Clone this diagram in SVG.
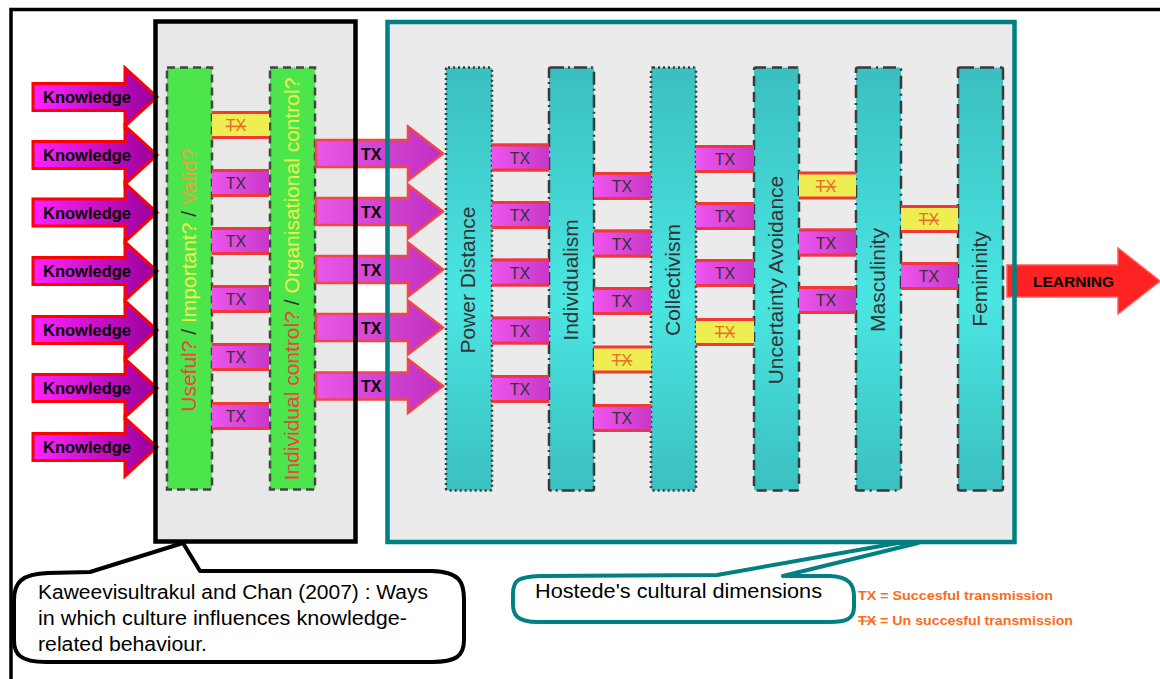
<svg xmlns="http://www.w3.org/2000/svg" width="1160" height="679" viewBox="0 0 1160 679">
<style>
.kw{font:bold 16.5px "Liberation Sans",Arial,sans-serif;fill:#000}
.karrow polygon{fill:url(#kg);stroke:#ff0000;stroke-width:3}
.txarrow polygon{fill:url(#tag);stroke:#f04848;stroke-width:2.5}
.txa{font:bold 16px "Liberation Sans",Arial,sans-serif;fill:#000}
.conn rect{fill:url(#cg)}
.conn.no rect{fill:#eeee52}
.conn line{stroke:#f03838;stroke-width:3}
.tx{font:16px "Liberation Sans",Arial,sans-serif;fill:#333;text-anchor:middle}
.no .tx{fill:#e8702a;text-decoration:line-through}
.gbar{fill:#4ce64c;stroke:#444;stroke-width:2.5;stroke-dasharray:8 5}
.tbar{fill:url(#tg);stroke:#3a3a3a;stroke-width:2.5}
.dim{font:21px "Liberation Sans",Arial,sans-serif;fill:#333;text-anchor:middle}
.gtxt{font:21px "Liberation Sans",Arial,sans-serif;text-anchor:middle}
.call{font:20px "Liberation Sans",Arial,sans-serif;fill:#000}
.leg{font:bold 13px "Liberation Sans",Arial,sans-serif;fill:#ff6a1a}
</style>
<defs>
<linearGradient id="kg" x1="0" y1="0" x2="1" y2="0"><stop offset="0" stop-color="#ff22ff"/><stop offset="1" stop-color="#980098"/></linearGradient>
<linearGradient id="tag" x1="0" y1="0" x2="1" y2="0"><stop offset="0" stop-color="#e858e8"/><stop offset="1" stop-color="#c030c0"/></linearGradient>
<linearGradient id="cg" x1="0" y1="0" x2="1" y2="0"><stop offset="0" stop-color="#ee55ee"/><stop offset="1" stop-color="#c838c8"/></linearGradient>
<linearGradient id="tg" x1="0" y1="0" x2="0" y2="1"><stop offset="0" stop-color="#3bbfc0"/><stop offset="0.55" stop-color="#4ae6e2"/><stop offset="1" stop-color="#3bc0c0"/></linearGradient>
</defs>
<rect width="1160" height="679" fill="#fff"/>
<g id="outer-frame"><path d="M11,679 V9.5 H1160" fill="none" stroke="#000" stroke-width="3.5"/></g>

<g id="box-kaweevisultrakul-fill"><rect x="155.5" y="21.5" width="200" height="520" fill="#e8e8e8"/></g>
<g id="box-hofstede-fill"><rect x="387.5" y="22" width="627" height="520" fill="#ebebeb"/></g>

<g id="green-bars">
<g id="bar-useful"><rect class="gbar" x="167" y="67.5" width="45" height="422"/>
<text class="gtxt" x="196" y="280" transform="rotate(-90 196 280)"><tspan fill="#f04040">Useful?</tspan><tspan fill="#333"> / </tspan><tspan fill="#f0f050">Important?</tspan><tspan fill="#333"> / </tspan><tspan fill="#f0a040">Valid?</tspan></text></g>
<g id="bar-control"><rect class="gbar" x="270" y="67.5" width="45" height="422"/>
<text class="gtxt" x="299" y="279" transform="rotate(-90 299 279)"><tspan fill="#f04040">Individual control?</tspan><tspan fill="#333"> / </tspan><tspan fill="#f0f050">Organisational control?</tspan></text></g>
</g>

<g id="teal-bars">
<g id="bar-pd"><rect class="tbar" x="446" y="67.5" width="46" height="423" rx="2" stroke-dasharray="2 3"/><text class="dim" x="475" y="280" transform="rotate(-90 475 280)">Power Distance</text></g>
<g id="bar-ind"><rect class="tbar" x="549" y="67.5" width="45" height="423" rx="2" stroke-dasharray="13 4 2 4"/><text class="dim" x="578" y="280" transform="rotate(-90 578 280)">Individualism</text></g>
<g id="bar-col"><rect class="tbar" x="651" y="67.5" width="45" height="423" rx="2" stroke-dasharray="2 3"/><text class="dim" x="680" y="280" transform="rotate(-90 680 280)">Collectivism</text></g>
<g id="bar-ua"><rect class="tbar" x="754" y="67.5" width="45" height="423" rx="2" stroke-dasharray="10 6"/><text class="dim" x="783" y="280" transform="rotate(-90 783 280)">Uncertainty Avoidance</text></g>
<g id="bar-mas"><rect class="tbar" x="856" y="67.5" width="45" height="423" rx="2" stroke-dasharray="13 5 2 5"/><text class="dim" x="885" y="280" transform="rotate(-90 885 280)">Masculinity</text></g>
<g id="bar-fem"><rect class="tbar" x="958" y="67.5" width="45" height="423" rx="2" stroke-dasharray="14 6"/><text class="dim" x="987" y="279" transform="rotate(-90 987 279)">Femininity</text></g>
</g>

<g id="connectors">
<!-- green section -->
<g class="conn no" transform="translate(212,125)"><rect y="-14" width="57" height="28"/><line x1="0" y1="-12.5" x2="57" y2="-12.5"/><line x1="0" y1="12.5" x2="57" y2="12.5"/><text class="tx" x="24" y="6">TX</text></g>
<g class="conn" transform="translate(212,183)"><rect y="-14" width="57" height="28"/><line x1="0" y1="-12.5" x2="57" y2="-12.5"/><line x1="0" y1="12.5" x2="57" y2="12.5"/><text class="tx" x="24" y="6">TX</text></g>
<g class="conn" transform="translate(212,241)"><rect y="-14" width="57" height="28"/><line x1="0" y1="-12.5" x2="57" y2="-12.5"/><line x1="0" y1="12.5" x2="57" y2="12.5"/><text class="tx" x="24" y="6">TX</text></g>
<g class="conn" transform="translate(212,299)"><rect y="-14" width="57" height="28"/><line x1="0" y1="-12.5" x2="57" y2="-12.5"/><line x1="0" y1="12.5" x2="57" y2="12.5"/><text class="tx" x="24" y="6">TX</text></g>
<g class="conn" transform="translate(212,357)"><rect y="-14" width="57" height="28"/><line x1="0" y1="-12.5" x2="57" y2="-12.5"/><line x1="0" y1="12.5" x2="57" y2="12.5"/><text class="tx" x="24" y="6">TX</text></g>
<g class="conn" transform="translate(212,416)"><rect y="-14" width="57" height="28"/><line x1="0" y1="-12.5" x2="57" y2="-12.5"/><line x1="0" y1="12.5" x2="57" y2="12.5"/><text class="tx" x="24" y="6">TX</text></g>
<!-- PD to Individualism -->
<g class="conn" transform="translate(492,157.5)"><rect y="-14" width="57" height="28"/><line x1="0" y1="-12.5" x2="57" y2="-12.5"/><line x1="0" y1="12.5" x2="57" y2="12.5"/><text class="tx" x="28" y="6">TX</text></g>
<g class="conn" transform="translate(492,215)"><rect y="-14" width="57" height="28"/><line x1="0" y1="-12.5" x2="57" y2="-12.5"/><line x1="0" y1="12.5" x2="57" y2="12.5"/><text class="tx" x="28" y="6">TX</text></g>
<g class="conn" transform="translate(492,272.5)"><rect y="-14" width="57" height="28"/><line x1="0" y1="-12.5" x2="57" y2="-12.5"/><line x1="0" y1="12.5" x2="57" y2="12.5"/><text class="tx" x="28" y="6">TX</text></g>
<g class="conn" transform="translate(492,330.5)"><rect y="-14" width="57" height="28"/><line x1="0" y1="-12.5" x2="57" y2="-12.5"/><line x1="0" y1="12.5" x2="57" y2="12.5"/><text class="tx" x="28" y="6">TX</text></g>
<g class="conn" transform="translate(492,389)"><rect y="-14" width="57" height="28"/><line x1="0" y1="-12.5" x2="57" y2="-12.5"/><line x1="0" y1="12.5" x2="57" y2="12.5"/><text class="tx" x="28" y="6">TX</text></g>
<!-- Individualism to Collectivism -->
<g class="conn" transform="translate(594,186)"><rect y="-14" width="57" height="28"/><line x1="0" y1="-12.5" x2="57" y2="-12.5"/><line x1="0" y1="12.5" x2="57" y2="12.5"/><text class="tx" x="28" y="6">TX</text></g>
<g class="conn" transform="translate(594,243.5)"><rect y="-14" width="57" height="28"/><line x1="0" y1="-12.5" x2="57" y2="-12.5"/><line x1="0" y1="12.5" x2="57" y2="12.5"/><text class="tx" x="28" y="6">TX</text></g>
<g class="conn" transform="translate(594,301)"><rect y="-14" width="57" height="28"/><line x1="0" y1="-12.5" x2="57" y2="-12.5"/><line x1="0" y1="12.5" x2="57" y2="12.5"/><text class="tx" x="28" y="6">TX</text></g>
<g class="conn no" transform="translate(594,359.5)"><rect y="-14" width="57" height="28"/><line x1="0" y1="-12.5" x2="57" y2="-12.5"/><line x1="0" y1="12.5" x2="57" y2="12.5"/><text class="tx" x="28" y="6">TX</text></g>
<g class="conn" transform="translate(594,418)"><rect y="-14" width="57" height="28"/><line x1="0" y1="-12.5" x2="57" y2="-12.5"/><line x1="0" y1="12.5" x2="57" y2="12.5"/><text class="tx" x="28" y="6">TX</text></g>
<!-- Collectivism to UA -->
<g class="conn" transform="translate(696,159)"><rect y="-14" width="58" height="28"/><line x1="0" y1="-12.5" x2="58" y2="-12.5"/><line x1="0" y1="12.5" x2="58" y2="12.5"/><text class="tx" x="29" y="6">TX</text></g>
<g class="conn" transform="translate(696,216)"><rect y="-14" width="58" height="28"/><line x1="0" y1="-12.5" x2="58" y2="-12.5"/><line x1="0" y1="12.5" x2="58" y2="12.5"/><text class="tx" x="29" y="6">TX</text></g>
<g class="conn" transform="translate(696,273)"><rect y="-14" width="58" height="28"/><line x1="0" y1="-12.5" x2="58" y2="-12.5"/><line x1="0" y1="12.5" x2="58" y2="12.5"/><text class="tx" x="29" y="6">TX</text></g>
<g class="conn no" transform="translate(696,332)"><rect y="-14" width="58" height="28"/><line x1="0" y1="-12.5" x2="58" y2="-12.5"/><line x1="0" y1="12.5" x2="58" y2="12.5"/><text class="tx" x="29" y="6">TX</text></g>
<!-- UA to Masculinity -->
<g class="conn no" transform="translate(799,185.5)"><rect y="-14" width="57" height="28"/><line x1="0" y1="-12.5" x2="57" y2="-12.5"/><line x1="0" y1="12.5" x2="57" y2="12.5"/><text class="tx" x="27" y="6">TX</text></g>
<g class="conn" transform="translate(799,242.5)"><rect y="-14" width="57" height="28"/><line x1="0" y1="-12.5" x2="57" y2="-12.5"/><line x1="0" y1="12.5" x2="57" y2="12.5"/><text class="tx" x="27" y="6">TX</text></g>
<g class="conn" transform="translate(799,300)"><rect y="-14" width="57" height="28"/><line x1="0" y1="-12.5" x2="57" y2="-12.5"/><line x1="0" y1="12.5" x2="57" y2="12.5"/><text class="tx" x="27" y="6">TX</text></g>
<!-- Masculinity to Femininity -->
<g class="conn no" transform="translate(901,219)"><rect y="-14" width="57" height="28"/><line x1="0" y1="-12.5" x2="57" y2="-12.5"/><line x1="0" y1="12.5" x2="57" y2="12.5"/><text class="tx" x="28" y="6">TX</text></g>
<g class="conn" transform="translate(901,276)"><rect y="-14" width="57" height="28"/><line x1="0" y1="-12.5" x2="57" y2="-12.5"/><line x1="0" y1="12.5" x2="57" y2="12.5"/><text class="tx" x="28" y="6">TX</text></g>

<!-- Knowledge input arrows -->
<g id="k1" class="karrow" transform="translate(0,97)"><polygon points="33,-13.5 125,-13.5 125,-29 157,0 125,29 125,13.5 33,13.5"/><text class="kw" x="43" y="6">Knowledge</text></g>
<g id="k2" class="karrow" transform="translate(0,155)"><polygon points="33,-13.5 125,-13.5 125,-29 157,0 125,29 125,13.5 33,13.5"/><text class="kw" x="43" y="6">Knowledge</text></g>
<g id="k3" class="karrow" transform="translate(0,212.5)"><polygon points="33,-13.5 125,-13.5 125,-29 157,0 125,29 125,13.5 33,13.5"/><text class="kw" x="43" y="6">Knowledge</text></g>
<g id="k4" class="karrow" transform="translate(0,271)"><polygon points="33,-13.5 125,-13.5 125,-29 157,0 125,29 125,13.5 33,13.5"/><text class="kw" x="43" y="6">Knowledge</text></g>
<g id="k5" class="karrow" transform="translate(0,330)"><polygon points="33,-13.5 125,-13.5 125,-29 157,0 125,29 125,13.5 33,13.5"/><text class="kw" x="43" y="6">Knowledge</text></g>
<g id="k6" class="karrow" transform="translate(0,388)"><polygon points="33,-13.5 125,-13.5 125,-29 157,0 125,29 125,13.5 33,13.5"/><text class="kw" x="43" y="6">Knowledge</text></g>
<g id="k7" class="karrow" transform="translate(0,447)"><polygon points="33,-13.5 125,-13.5 125,-29 157,0 125,29 125,13.5 33,13.5"/><text class="kw" x="43" y="6">Knowledge</text></g>

<!-- TX arrows into Power Distance -->
<g id="ta1" class="txarrow" transform="translate(0,153.5)"><polygon points="316,-13.5 408,-13.5 408,-27 443,0 408,27 408,13.5 316,13.5"/><text class="txa" x="361" y="6">TX</text></g>
<g id="ta2" class="txarrow" transform="translate(0,211.5)"><polygon points="316,-13.5 408,-13.5 408,-27 443,0 408,27 408,13.5 316,13.5"/><text class="txa" x="361" y="6">TX</text></g>
<g id="ta3" class="txarrow" transform="translate(0,269.5)"><polygon points="316,-13.5 408,-13.5 408,-27 443,0 408,27 408,13.5 316,13.5"/><text class="txa" x="361" y="6">TX</text></g>
<g id="ta4" class="txarrow" transform="translate(0,327.5)"><polygon points="316,-13.5 408,-13.5 408,-27 443,0 408,27 408,13.5 316,13.5"/><text class="txa" x="361" y="6">TX</text></g>
<g id="ta5" class="txarrow" transform="translate(0,386)"><polygon points="316,-13.5 408,-13.5 408,-27 443,0 408,27 408,13.5 316,13.5"/><text class="txa" x="361" y="6">TX</text></g>

<!-- Learning output arrow -->
<g id="learning"><polygon points="1007,265 1118,265 1118,248 1160,281 1118,314 1118,297 1007,297" fill="#ff2222" stroke="#ff5a5a" stroke-width="1.5"/><text x="1033" y="286.5" font-family="Liberation Sans, Arial, sans-serif" font-weight="bold" font-size="15.5" fill="#000">LEARNING</text></g>
</g>

<!-- callouts -->
<g id="callout-kaweevisultrakul">
<path d="M90,572 L183,543 L200,571 L432,571 C460,572 464,582 464,600 L464,640 C464,656 456,662 432,662 L46,662 C20,662 14,654 14,640 L14,600 C14,582 22,574 48,573 Z" fill="#fff" stroke="#000" stroke-width="4" stroke-linejoin="round"/>
<text class="call" x="38" y="599" textLength="390" lengthAdjust="spacingAndGlyphs">Kaweevisultrakul and Chan (2007) : Ways</text>
<text class="call" x="38" y="625" textLength="369" lengthAdjust="spacingAndGlyphs">in which culture influences knowledge-</text>
<text class="call" x="38" y="651" textLength="169" lengthAdjust="spacingAndGlyphs">related behaviour.</text>
</g>
<g id="callout-hofstede">
<path d="M717,575 L898,543 L918,543 L783,576 L830,576 C850,577 854,585 854,597 L854,607 C854,619 846,622 830,622 L538,622 C516,622 513,614 513,604 L513,594 C513,580 518,577 540,576 Z" fill="#fff" stroke="#008080" stroke-width="4" stroke-linejoin="round"/>
<text class="call" x="535" y="598" textLength="287" lengthAdjust="spacingAndGlyphs">Hostede's cultural dimensions</text>
</g>

<!-- frame borders drawn on top -->
<g id="box-borders">
<rect x="155.5" y="21.5" width="200" height="520" fill="none" stroke="#000" stroke-width="4.5"/>
<rect x="387.5" y="22" width="627" height="520" fill="none" stroke="#008080" stroke-width="4.5"/>
</g>

<g id="legend">
<text class="leg" x="858" y="600" textLength="195" lengthAdjust="spacingAndGlyphs">TX = Succesful transmission</text>
<text class="leg" x="858" y="625" textLength="215" lengthAdjust="spacingAndGlyphs"><tspan text-decoration="line-through">TX</tspan> = Un succesful transmission</text>
</g>
</svg>
